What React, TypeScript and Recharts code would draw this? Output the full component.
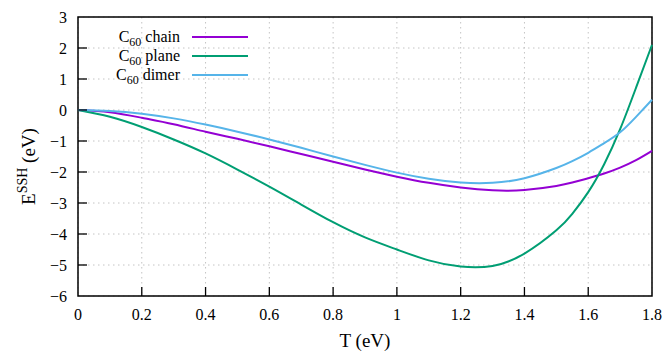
import React from "react";
import {
  LineChart,
  Line,
  XAxis,
  YAxis,
  CartesianGrid,
  ReferenceArea,
  Legend,
} from "recharts";

const temps = [0, 0.1, 0.2, 0.3, 0.4, 0.5, 0.6, 0.7, 0.8, 0.9, 1.0, 1.1, 1.2, 1.3, 1.4, 1.5, 1.55, 1.6, 1.65, 1.7, 1.75, 1.8];
const chain = [0, -0.07, -0.25, -0.46, -0.7, -0.93, -1.17, -1.42, -1.67, -1.92, -2.15, -2.35, -2.5, -2.59, -2.58, -2.45, -2.34, -2.2, -2.05, -1.86, -1.62, -1.32];
const plane = [0, -0.22, -0.55, -0.95, -1.4, -1.92, -2.47, -3.05, -3.62, -4.11, -4.5, -4.85, -5.05, -5.03, -4.63, -3.88, -3.35, -2.65, -1.75, -0.62, 0.72, 2.1];
const dimer = [0, -0.03, -0.12, -0.27, -0.47, -0.7, -0.95, -1.22, -1.5, -1.77, -2.02, -2.22, -2.34, -2.35, -2.2, -1.87, -1.65, -1.38, -1.07, -0.72, -0.22, 0.33];

const xTicks = [0, 0.2, 0.4, 0.6, 0.8, 1, 1.2, 1.4, 1.6, 1.8];
const yTicks = [-6, -5, -4, -3, -2, -1, 0, 1, 2, 3];

const series = [
  { key: "chain", name: "chain", color: "#9400d3" },
  { key: "plane", name: "plane", color: "#009e73" },
  { key: "dimer", name: "dimer", color: "#56b4e9" },
];

const data = temps.map((t, i) => ({ t, chain: chain[i], plane: plane[i], dimer: dimer[i] }));

const FONT = "Liberation Serif, Times New Roman, Tinos, DejaVu Serif, Noto Serif, serif";
const X_MARGIN = 12;
const Y_MARGIN = 11;
const TICK_LEN = 9;

const fmt = (v: number) => (v < 0 ? "\u2212" + Math.abs(v) : String(v));

function XTick(props: any) {
  const { x, y, payload } = props;
  const axisY = y - X_MARGIN;
  return (
    <g>
      {payload.value !== 0 && payload.value !== 1.8 && (
        <line x1={x} x2={x} y1={axisY} y2={axisY - TICK_LEN} stroke="#000" strokeWidth={1.3} />
      )}
      <text x={x} y={y} dy="0.78em" textAnchor="middle" style={{ fontFamily: FONT }} fontSize={16} fill="#000">
        {fmt(payload.value)}
      </text>
    </g>
  );
}

function YTick(props: any) {
  const { x, y, payload } = props;
  const axisX = x + Y_MARGIN;
  return (
    <g>
      {payload.value !== -6 && payload.value !== 3 && (
        <line x1={axisX} x2={axisX + TICK_LEN} y1={y} y2={y} stroke="#000" strokeWidth={1.3} />
      )}
      <text x={x} y={y} dy="0.36em" textAnchor="end" style={{ fontFamily: FONT }} fontSize={16} fill="#000">
        {fmt(payload.value)}
      </text>
    </g>
  );
}

function XLabel(props: any) {
  const vb = props.viewBox || {};
  return (
    <text x={vb.x + vb.width / 2} y={vb.y + 51} textAnchor="middle" style={{ fontFamily: FONT }} fontSize={19} fill="#000">
      T (eV)
    </text>
  );
}

function YLabel(props: any) {
  const vb = props.viewBox || {};
  const cx = 35;
  const cy = vb.y + vb.height / 2 + 10;
  return (
    <text
      x={cx}
      y={cy}
      transform={`rotate(-90 ${cx} ${cy})`}
      textAnchor="middle"
      style={{ fontFamily: FONT }}
      fontSize={19}
      fill="#000"
    >
      E
      <tspan fontSize={14} dy={-8}>SSH</tspan>
      <tspan dy={8}> (eV)</tspan>
    </text>
  );
}

function LegendBox() {
  return (
    <div style={{ fontFamily: FONT, fontSize: 16, color: "#000", lineHeight: "19px" }}>
      {series.map((s) => (
        <div key={s.key} style={{ display: "flex", alignItems: "center", height: 19 }}>
          <span style={{ width: 110, textAlign: "right", whiteSpace: "nowrap" }}>
            C<sub style={{ fontSize: 12, verticalAlign: "-4px", lineHeight: 0 }}>60</sub> {s.name}
          </span>
          <span style={{ display: "inline-block", width: 56, height: 2, background: s.color, marginLeft: 12 }} />
        </div>
      ))}
    </div>
  );
}

export default function App() {
  return (
    <div style={{ position: "absolute", left: 0, top: 0, width: 666, height: 352, background: "#fff" }}>
      <LineChart width={666} height={352} data={data} margin={{ top: 17, right: 14, left: 0, bottom: 0 }}>
        <CartesianGrid stroke="#c4c4c4" strokeDasharray="1.5 3.5" strokeWidth={1} />
        <XAxis
          dataKey="t"
          type="number"
          domain={[0, 1.8]}
          ticks={xTicks}
          height={56}
          tickSize={0}
          tickMargin={X_MARGIN}
          axisLine={false}
          tickLine={false}
          tick={<XTick />}
          interval={0}
          label={<XLabel />}
        />
        <YAxis
          type="number"
          domain={[-6, 3]}
          ticks={yTicks}
          width={78}
          tickSize={0}
          tickMargin={Y_MARGIN}
          axisLine={false}
          tickLine={false}
          tick={<YTick />}
          interval={0}
          label={<YLabel />}
        />
        <ReferenceArea x1={0} x2={1.8} y1={-6} y2={3} fill="none" stroke="#000" strokeWidth={1.5} ifOverflow="visible" />
        <Legend
          content={<LegendBox />}
          layout="vertical"
          verticalAlign="middle"
          align="center"
          wrapperStyle={{ top: 27, left: 70, width: 200 }}
        />
        {series.map((s) => (
          <Line
            key={s.key}
            type="natural"
            dataKey={s.key}
            name={s.name}
            stroke={s.color}
            strokeWidth={2}
            dot={false}
            isAnimationActive={false}
          />
        ))}
      </LineChart>
    </div>
  );
}
